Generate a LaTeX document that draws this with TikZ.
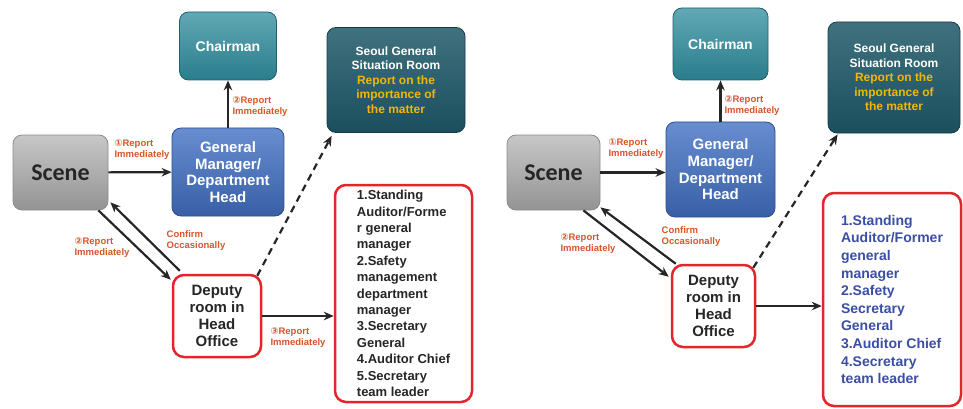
\documentclass[tikz,border=0pt]{standalone}
\usepackage{fontspec}
\setmainfont{Liberation Sans}
\newfontfamily\scenefont{Carlito}
\newfontfamily\circfont{DejaVu Sans}
\usetikzlibrary{positioning, arrows.meta, calc}

\definecolor{chairteal}{HTML}{2E8B9C}
\definecolor{gmblue}{HTML}{4270C4}
\definecolor{roomteal}{HTML}{1E5868}
\definecolor{alertred}{HTML}{E3262B}
\definecolor{lblred}{HTML}{D6552B}
\definecolor{mattergold}{HTML}{F2B705}
\definecolor{listblue}{HTML}{3A4EA6}

\newcommand{\circnum}[1]{{\circfont #1}}

\begin{document}
\begin{tikzpicture}[
  x=1pt, y=-1pt,
  font=\bfseries,
  >={Stealth[length=10pt,width=8.5pt]},
  box/.style={rounded corners=9pt, align=center, inner sep=2pt, line width=0.8pt},
  scenebox/.style={box, draw=black!45, top color=black!22, bottom color=black!42,
                   text=black!85, font=\scenefont\bfseries\fontsize{24}{28}\selectfont},
  chairbox/.style={box, draw=chairteal!70!black, top color=chairteal!75!white,
                   bottom color=chairteal!90!black, text=white, font=\bfseries\fontsize{14}{17}\selectfont},
  gmbox/.style   ={box, draw=gmblue!70!black, top color=gmblue!80!white,
                   bottom color=gmblue!85!black, text=white, font=\bfseries\fontsize{15}{16.7}\selectfont},
  roombox/.style ={box, draw=roomteal!70!black, top color=roomteal!85!white,
                   bottom color=roomteal!90!black, text=white, font=\bfseries\fontsize{12}{14.5}\selectfont},
  redbox/.style  ={box, draw=alertred, fill=white, line width=2.5pt, rounded corners=11pt},
  deputybox/.style={redbox, text=black!85, font=\bfseries\fontsize{15}{17}\selectfont},
  flow/.style={->, line width=2.2pt, black!85},
  dashflow/.style={flow, dash pattern=on 7pt off 5pt},
  lbl/.style={text=lblred, align=left, inner sep=0pt, font=\bfseries\fontsize{9.5}{11}\selectfont},
]
\useasboundingbox (0,0) rectangle (963,409);

% ---------- Left panel ----------
\node[scenebox, minimum width=95pt, minimum height=75pt] (scene) at (60.5,172.5) {Scene};
\node[chairbox, minimum width=97pt, minimum height=68pt] (chair) at (228,46) {Chairman};
\node[gmbox, minimum width=112pt, minimum height=88pt] (gm) at (228,172) {General\\Manager/\\Department\\Head};
\node[roombox, minimum width=138pt, minimum height=105pt] (seoul) at (396,80)
  {Seoul General\\Situation Room\\\color{mattergold}Report on the\\\color{mattergold}importance of\\\color{mattergold}the matter};
\node[deputybox, minimum width=88pt, minimum height=82pt] (deputy) at (217,316) {Deputy\\room in\\Head\\Office};
\node[redbox, minimum width=137pt, minimum height=217pt, align=left, text=black!85,
      font=\bfseries\fontsize{13}{16.4}\selectfont] (list) at (403.5,293.5)
  {1.Standing\\Auditor/Forme\\r general\\manager\\2.Safety\\management\\department\\manager\\3.Secretary\\General\\4.Auditor Chief\\5.Secretary\\team leader};

\draw[flow] (scene) -- (gm);
\draw[flow] (gm) -- (chair);
\draw[dashflow] ($(deputy.north east)+(-5,2)$) -- ($(seoul.south west)+(5,3)$);
\draw[flow] ($(scene.south east)+(-10,0)$) -- ($(deputy.north west)+(-1,6)$);
\draw[flow] ($(deputy.north west)+(8,-3)$) -- ($(scene.south east)+(2,-8)$);
\draw[flow] (deputy.east) -- (deputy.east -| list.west);

\node[lbl] (r1) at (142,150) {\circnum{①}Report\\Immediately};
\node[lbl] (r2) at (260,107) {\circnum{②}Report\\Immediately};
\node[lbl] (r3) at (102,248) {\circnum{②}Report\\Immediately};
\node[lbl] (co) at (196,241) {Confirm\\Occasionally};
\node[lbl] (r4) at (298,338) {\circnum{③}Report\\Immediately};

% ---------- Right panel ----------
\node[scenebox, minimum width=93pt, minimum height=75pt] (sceneB) at (553.5,172.5) {Scene};
\node[chairbox, minimum width=95pt, minimum height=72pt] (chairB) at (720.5,44) {Chairman};
\node[gmbox, minimum width=109pt, minimum height=95pt] (gmB) at (720.5,169.5) {General\\Manager/\\Department\\Head};
\node[roombox, minimum width=132pt, minimum height=111pt] (seoulB) at (894,77.5)
  {Seoul General\\Situation Room\\\color{mattergold}Report on the\\\color{mattergold}importance of\\\color{mattergold}the matter};
\node[deputybox, minimum width=83pt, minimum height=82pt] (deputyB) at (713.5,306) {Deputy\\room in\\Head\\Office};
\node[redbox, minimum width=138pt, minimum height=213pt, align=left, text=listblue,
      font=\bfseries\fontsize{14}{17.6}\selectfont] (listB) at (892,299.5)
  {1.Standing\\Auditor/Former\\general\\manager\\2.Safety\\Secretary\\General\\3.Auditor Chief\\4.Secretary\\team leader};

\draw[flow] (sceneB) -- (sceneB -| gmB.west);
\draw[flow] (gmB) -- (chairB);
\draw[dashflow] ($(deputyB.north east)+(-3,4)$) -- ($(seoulB.south west)+(10,1)$);
\draw[flow] ($(sceneB.south east)+(-17,0)$) -- ($(deputyB.north west)+(-2,13)$);
\draw[flow] ($(deputyB.north west)+(5,0)$) -- ($(sceneB.south east)+(0,-3)$);
\draw[flow] (deputyB.east) -- (deputyB.east -| listB.west);

\node[lbl] (r1B) at (636,149) {\circnum{①}Report\\Immediately};
\node[lbl] (r2B) at (752,106) {\circnum{②}Report\\Immediately};
\node[lbl] (r3B) at (588,244) {\circnum{②}Report\\Immediately};
\node[lbl] (coB) at (691,237) {Confirm\\Occasionally};
\end{tikzpicture}
\end{document}
